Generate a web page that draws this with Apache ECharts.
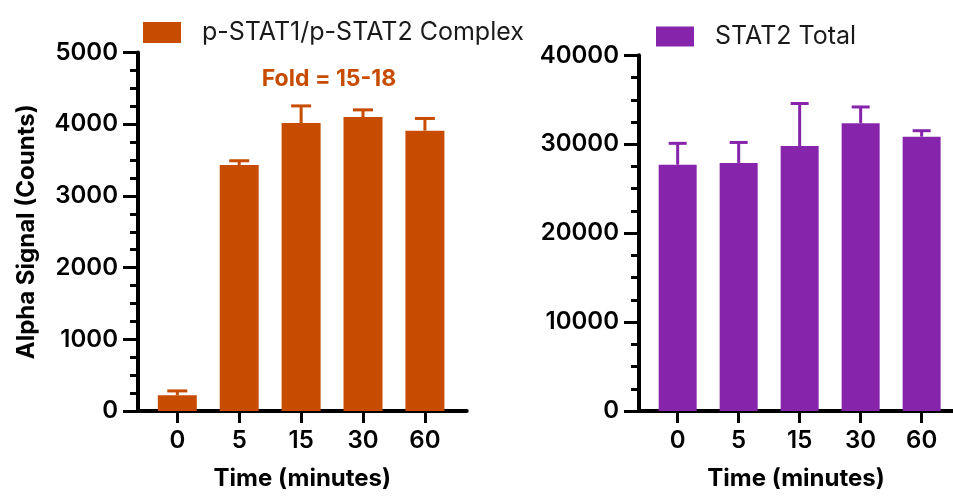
<!DOCTYPE html>
<html>
<head>
<meta charset="utf-8">
<script src="https://cdn.jsdelivr.net/npm/echarts@6/dist/echarts.min.js"></script>
<style>
html,body{margin:0;padding:0;background:#fff;}
#c{width:953px;height:496px;}
</style>
</head>
<body>
<div id="c"></div>
<script>
// ---- data ----
const categories = ['0', '5', '15', '30', '60'];
const complexName = 'p-STAT1/p-STAT2 Complex';
const complexMean = [220, 3430, 4015, 4100, 3910];
const complexErr  = [60, 60, 240, 100, 170];
const totalName = 'STAT2 Total';
const totalMean = [27700, 27900, 29800, 32350, 30850];
const totalErr  = [2400, 2300, 4780, 1840, 670];
const leftTicks = [0, 1000, 2000, 3000, 4000, 5000];
const rightTicks = [0, 10000, 20000, 30000, 40000];
const foldText = 'Fold = 15-18';
const xTitle = 'Time (minutes)';
const yTitle = 'Alpha Signal (Counts)';

const ORANGE = '#C84C00';
const PURPLE = '#8724AC';
const FONT = 'Inter';

const idx = categories.map((c, i) => i);

function xAxisCfg(gridIndex, min, max) {
  return {
    type: 'value', gridIndex, min, max,
    name: xTitle, nameLocation: 'middle', nameGap: 56,
    nameTextStyle: {fontFamily: FONT, fontWeight: 'bold', fontSize: 24, color: '#000'},
    axisLine: {show: true, onZero: false, lineStyle: {color: '#000', width: 4}},
    axisTick: {show: true, customValues: idx, length: 12, lineStyle: {color: '#000', width: 3}},
    axisLabel: {show: true, customValues: idx, margin: 18, color: '#000', fontFamily: FONT, fontWeight: 600, fontSize: 24,
      formatter: v => categories[Math.round(v)]},
    splitLine: {show: false}
  };
}
function yAxisCfg(gridIndex, ticks, withName) {
  const cfg = {
    type: 'value', gridIndex, min: ticks[0], max: ticks[ticks.length - 1],
    interval: ticks[1] - ticks[0],
    axisLine: {show: true, onZero: false, lineStyle: {color: '#000', width: 4}},
    axisTick: {show: true, length: 15, lineStyle: {color: '#000', width: 3}},
    minorTick: {show: true, splitNumber: 4, length: 8, lineStyle: {color: '#000', width: 3}},
    axisLabel: {margin: 20, color: '#000', fontFamily: FONT, fontWeight: 600, fontSize: 24,
      formatter: v => String(v)},
    splitLine: {show: false}
  };
  if (withName) {
    Object.assign(cfg, {
      name: yTitle, nameLocation: 'middle', nameRotate: 90, nameGap: 99,
      nameTextStyle: {fontFamily: FONT, fontWeight: 'bold', fontSize: 24, color: '#000'}
    });
  }
  return cfg;
}
function errSeries(name, mean, err, color, xi, capHalf) {
  return {
    type: 'custom', name: name + ' err', xAxisIndex: xi, yAxisIndex: xi, z: 1,
    data: mean.map((m, i) => [i, m, m + err[i]]),
    renderItem: function (params, api) {
      const x = api.value(0);
      const base = api.coord([x, api.value(1)]);
      const top = api.coord([x, api.value(2)]);
      return {
        type: 'group',
        children: [
          {type: 'line', shape: {x1: top[0], y1: top[1], x2: base[0], y2: base[1]}, style: {stroke: color, lineWidth: 3}},
          {type: 'line', shape: {x1: top[0] - capHalf, y1: top[1], x2: top[0] + capHalf, y2: top[1]}, style: {stroke: color, lineWidth: 3}}
        ]
      };
    }
  };
}

const chart = echarts.init(document.getElementById('c'), null, {renderer: 'canvas'});
chart.setOption({
  backgroundColor: '#fff',
  animation: false,
  legend: [
    {data: [complexName], left: 143, top: 20, padding: 0, itemWidth: 38, itemHeight: 21, icon: 'rect',
     textStyle: {fontFamily: FONT, fontSize: 25, color: '#1a1a1a', padding: [0, 0, 0, 16]}},
    {data: [totalName], left: 656, top: 24, padding: 0, itemWidth: 38, itemHeight: 20, icon: 'rect',
     textStyle: {fontFamily: FONT, fontSize: 25, color: '#1a1a1a', padding: [0, 0, 0, 16]}}
  ],
  grid: [
    {left: 138, top: 52.5, width: 328.7, height: 359.5},
    {left: 639, top: 55.3, width: 314, height: 360.7}
  ],
  xAxis: [xAxisCfg(0, -0.635, 4.675), xAxisCfg(1, -0.634, 4.514)],
  yAxis: [yAxisCfg(0, leftTicks, true), yAxisCfg(1, rightTicks, false)],
  graphic: [
    {type: 'text', x: 329, y: 79, style: {text: foldText, fill: ORANGE, font: 'bold 23px Inter', align: 'center', verticalAlign: 'middle'}}
  ],
  series: [
    {type: 'bar', name: complexName, xAxisIndex: 0, yAxisIndex: 0, barWidth: 39, z: 2,
     itemStyle: {color: ORANGE}, data: complexMean.map((v, i) => [i, v])},
    errSeries(complexName, complexMean, complexErr, ORANGE, 0, 10),
    {type: 'bar', name: totalName, xAxisIndex: 1, yAxisIndex: 1, barWidth: 38, z: 2,
     itemStyle: {color: PURPLE}, data: totalMean.map((v, i) => [i, v])},
    errSeries(totalName, totalMean, totalErr, PURPLE, 1, 9)
  ]
});
</script>
</body>
</html>
